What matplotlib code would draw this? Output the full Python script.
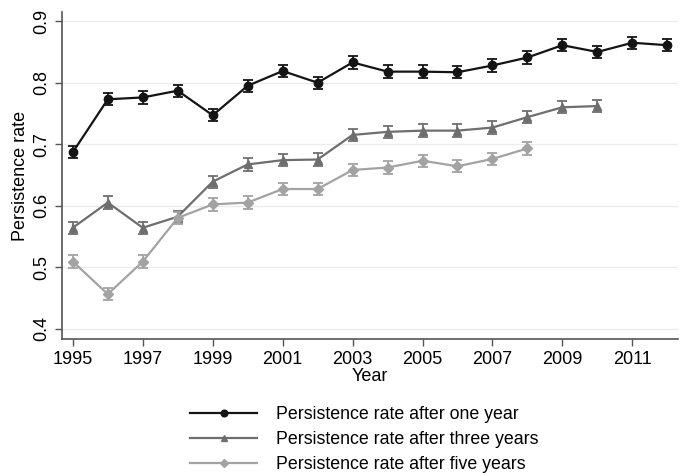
import matplotlib.pyplot as plt

plt.rcParams['font.family'] = ['Liberation Sans', 'DejaVu Sans']

years = list(range(1995, 2013))

one_year = [0.687, 0.773, 0.776, 0.787, 0.747, 0.795, 0.819, 0.800, 0.833,
            0.818, 0.818, 0.817, 0.828, 0.841, 0.861, 0.850, 0.865, 0.861]
three_years = [0.564, 0.605, 0.564, 0.582, 0.639, 0.667, 0.674, 0.675,
               0.715, 0.720, 0.722, 0.722, 0.727, 0.744, 0.760, 0.762]
five_years = [0.509, 0.456, 0.509, 0.580, 0.602, 0.605, 0.627, 0.627,
              0.658, 0.662, 0.673, 0.664, 0.676, 0.693]

# half-widths of the confidence intervals
one_err = [0.010] * len(one_year)
three_err = [0.010] * len(three_years)
five_err = [0.010] * len(five_years)

labels = ['Persistence rate after one year',
          'Persistence rate after three years',
          'Persistence rate after five years']

series = [
    (one_year, one_err, '#141414', 'o', 6),
    (three_years, three_err, '#6e6e6e', '^', 6),
    (five_years, five_err, '#a3a3a3', 'D', 5),
]

fig = plt.figure(figsize=(6.85, 4.73), dpi=100)
ax = fig.add_axes([0.0905, 0.2833, 0.8995, 0.6913])

for (vals, err, col, mk, ms), lab in zip(series, labels):
    x = years[:len(vals)]
    ax.errorbar(x, vals, yerr=err, color=col, marker=mk, markersize=ms,
                linewidth=1.6, elinewidth=1.3, capsize=3.5, capthick=1.3,
                label=lab, zorder=3)

ax.set_xlim(1994.69, 2012.31)
ax.set_ylim(0.383, 0.915)
ax.set_xticks(range(1995, 2012, 2))
ax.set_yticks([0.4, 0.5, 0.6, 0.7, 0.8, 0.9])
ax.set_yticklabels(['0.4', '0.5', '0.6', '0.7', '0.8', '0.9'], rotation=90, va='center')
ax.grid(axis='y', color='#ececec', linewidth=1.0, zorder=0)
ax.tick_params(labelsize=13, color='#555555', length=5, width=1.0)
for side in ['top', 'right']:
    ax.spines[side].set_visible(False)
for side in ['left', 'bottom']:
    ax.spines[side].set_color('#555555')
    ax.spines[side].set_linewidth(1.2)

ax.set_xlabel('Year', fontsize=13, labelpad=0)
ax.set_ylabel('Persistence rate', fontsize=13, labelpad=3)

# legend handles without error bars
handles = [plt.Line2D([], [], color=c, marker=m, markersize=s * 0.8, linewidth=1.6)
           for _, _, c, m, s in series]
fig.legend(handles, labels, loc='upper left', bbox_to_anchor=(0.277, 0.142),
           frameon=False, fontsize=12.8, handlelength=3.8, handletextpad=1.05,
           labelspacing=0.45, borderpad=0, borderaxespad=0)

fig.savefig('out.png', dpi=100)
